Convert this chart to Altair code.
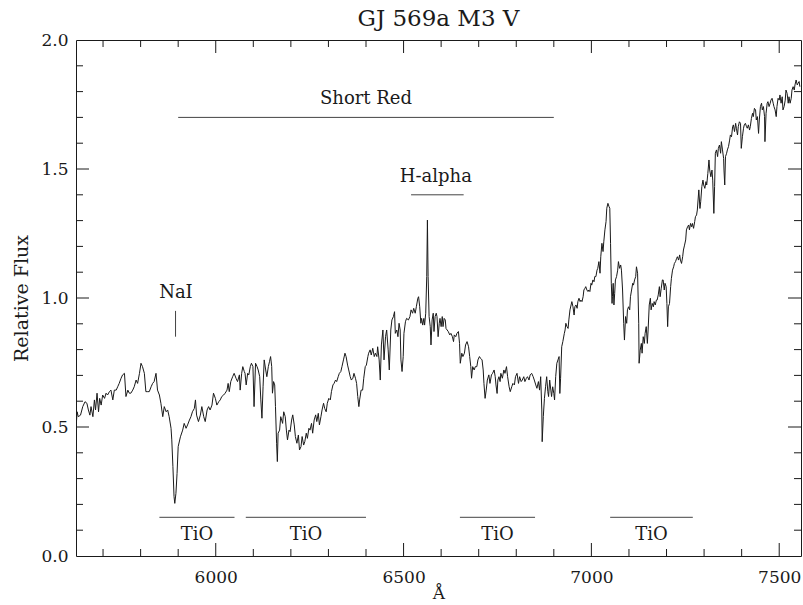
import altair as alt
import pandas as pd

# ---- spectrum (wavelength in Angstrom, relative flux) ----
wavelength = [
 5628,5631,5634,5640,5646,5652,5657,5661,5665,5668,5673,5677,5680,5684,5688,5691,5695,5699,5704,5708,
 5712,5717,5721,5726,5730,5735,5739,5743,5748,5752,5757,5761,5766,5770,5774,5779,5783,5788,5792,5797,
 5801,5805,5810,5814,5819,5823,5828,5832,5836,5841,5845,5850,5854,5859,5863,5868,5872,5876,5881,5883,
 5886,5889,5891,5894,5897,5900,5906,5912,5916,5921,5925,5930,5934,5938,5943,5946,5949,5954,5959,5963,
 5968,5972,5977,5981,5985,5990,5994,5999,6003,6008,6012,6016,6021,6025,6030,6033,6036,6040,6045,6049,
 6054,6058,6063,6065,6069,6072,6076,
 6078,6081,6085,6088,6092,6095,6099,6102,6106,6110,6113,6117,6120,6123,6126,6129,6133,6136,6140,6143,
 6146,6149,6151,6154,6157,6159,6162,6164,6166,6170,6173,6178,6181,6185,6188,6191,6195,6198,6202,6205,
 6209,6212,6216,6220,6223,6227,6230,6234,6237,6241,6244,6248,6251,6255,6258,6262,6266,6269,6273,6276,
 6280,6283,6287,6290,6294,6297,6301,6305,6308,6312,6315,6319,6322,6326,6329,6333,6336,6340,6344,6347,
 6351,6354,6358,6361,6365,6368,6372,6375,6378,6381,6383,6387,6391,6394,6398,6401,6405,6407,6411,6414,
 6418,6422,6425,6429,6431,6435,6438,6441,6445,6448,6452,6455,6459,6462,6466,6469,6473,6476,6478,6482,
 6485,6488,6491,6493,6496,6499,6501,6505,6508,6513,6517,
 6520,6524,6527,6531,6534,6538,6540,6543,6546,6548,6551,6554,6556,6559,6561.7,6563.5,6565.3,6568,6571,6573,
 6576,6579,6581,6584,6587,6589,6592,6595,6597,6600,6603,6605,6608,6611,6613,6616,6619,6623,6626,6630,
 6633,6635,6639,6642,6646,6649,6651,6655,6658,6662,6665,6669,6673,6676,6679,6681,6684,6688,6691,6695,
 6698,6702,6705,6709,6712,6714,6717,6720,6723,6727,6730,6734,6737,6741,6744,6746,6749,6751,6754,6757,
 6759,6763,6767,6770,6774,6777,6781,6784,6788,6791,6795,6798,6802,6806,6809,6813,6816,6820,6823,6827,
 6830,6834,6837,6841,6845,6848,6852,6855,6859,6862,6865,6868,6869,6872,6875,6878,6881,6884,6886,6889,
 6892,6894,6897,6900,6902,6905,6908,6911,6914,6916,6918,6921,6924,6928,
 6930,6932,6935,6938,6940,6943,6946,6948,6951,6954,6956,6959,6962,6964,6967,6970,6972,6975,6978,6980,
 6983,6985,6988,6991,6993,6996,6999,7001,7004,7007,7009,7012,7015,7017,7020,7023,7025,7028,7031,7033,
 7036,7039,7041,7044,7047,7049,7051,7053,7055,7056,7058,7060,7062,7064,7067,7070,7072,7075,7078,7080,
 7083,7086,7088,7091,7094,7096,7099,7102,7104,7107,7110,7112,7115,7118,7120,7123,7126,7127,7130,7133,
 7135,7138,7141,7143,7146,7149,7151,7154,7157,7159,7162,7165,7167,7170,7173,7175,7178,7181,7183,7186,
 7189,7191,7194,7196,7199,7201,7203,7205,7208,7211,7213,7216,7219,7221,7224,7227,7229,7232,7235,7237,
 7240,7243,7245,7248,7251,7253,7256,7259,7261,7264,7267,7269,7272,7275,7277,7280,7282,
 7286,7289,7291,7294,7297,7299,7302,7305,7307,7310,7313,7315,7318,7321,7323,7326,7328,7330,7333,7336,
 7338,7341,7344,7346,7349,7352,7353,7355,7357,7360,7362,7365,7368,7370,7373,7376,7378,7381,7384,7386,
 7389,7391,7394,7397,7399,7402,7405,7407,7410,7413,7415,7418,7421,7423,7426,7429,7431,7434,7437,7439,
 7442,7445,7447,7450,7453,7455,7458,7461,7462,7465,7468,7470,7473,7476,7478,7481,7484,7486,7489,7492,
 7494,7497,7500,7502,7505,7508,7510,7513,7516,7518,7521,7524,7526,7529,7532,7534,7537,7540,7542,7545,
 7548,7550,7553,7555,
]
flux = [
 0.495,0.559,0.540,0.546,0.579,0.598,0.592,0.566,0.546,0.579,0.540,0.605,0.566,0.631,0.559,0.611,0.585,0.624,0.611,0.631,
 0.624,0.637,0.643,0.605,0.643,0.643,0.656,0.669,0.689,0.702,0.708,0.618,0.643,0.631,0.631,0.643,0.656,0.682,0.669,0.708,
 0.747,0.734,0.708,0.637,0.637,0.637,0.656,0.669,0.676,0.708,0.643,0.624,0.592,0.540,0.579,0.559,0.566,0.540,0.495,0.450,
 0.346,0.230,0.204,0.243,0.320,0.424,0.462,0.488,0.514,0.495,0.508,0.527,0.540,0.559,0.572,0.605,0.546,0.521,0.546,0.579,
 0.540,0.521,0.566,0.579,0.566,0.585,0.631,0.611,0.585,0.598,0.605,0.618,0.624,0.631,0.643,0.669,0.637,0.676,0.695,0.708,
 0.689,0.676,0.702,0.643,0.708,0.734,0.715,
 0.708,0.663,0.708,0.702,0.734,0.747,0.734,0.579,0.747,0.734,0.721,0.695,0.605,0.534,0.656,0.760,0.721,0.695,0.734,0.753,
 0.773,0.734,0.631,0.676,0.663,0.579,0.437,0.366,0.476,0.488,0.540,0.514,0.559,0.540,0.488,0.450,0.488,0.482,0.527,0.547,
 0.508,0.463,0.437,0.469,0.411,0.424,0.463,0.430,0.443,0.476,0.456,0.495,0.488,0.514,0.476,0.527,0.547,0.521,0.553,0.508,
 0.540,0.566,0.592,0.572,0.559,0.592,0.611,0.605,0.637,0.663,0.669,0.682,0.676,0.695,0.708,0.715,0.734,0.760,0.786,0.773,
 0.740,0.721,0.695,0.682,0.689,0.708,0.689,0.669,0.618,0.579,0.605,0.643,0.643,0.689,0.734,0.740,0.773,0.786,0.799,0.779,
 0.805,0.773,0.786,0.773,0.811,0.760,0.682,0.818,0.876,0.760,0.850,0.876,0.799,0.721,0.876,0.915,0.928,0.947,0.863,0.876,
 0.850,0.902,0.876,0.760,0.715,0.773,0.863,0.908,0.921,0.915,0.928,
 0.954,0.941,0.960,0.941,0.966,0.999,1.005,0.966,0.902,0.921,0.895,0.921,0.895,0.941,1.083,1.302,1.083,0.928,0.889,0.818,
 0.915,0.941,0.870,0.928,0.941,0.928,0.850,0.902,0.921,0.889,0.928,0.889,0.921,0.915,0.882,0.876,0.870,0.857,0.863,0.850,
 0.831,0.857,0.850,0.863,0.870,0.824,0.747,0.786,0.773,0.786,0.818,0.831,0.811,0.773,0.734,0.689,0.734,0.721,0.734,0.734,
 0.760,0.773,0.766,0.760,0.721,0.669,0.611,0.643,0.682,0.702,0.669,0.702,0.708,0.721,0.695,0.663,0.630,0.682,0.695,0.676,
 0.708,0.689,0.721,0.708,0.734,0.695,0.656,0.637,0.656,0.669,0.663,0.695,0.708,0.669,0.695,0.676,0.682,0.695,0.676,0.689,
 0.695,0.682,0.702,0.708,0.695,0.682,0.663,0.650,0.676,0.643,0.695,0.566,0.443,0.540,0.611,0.656,0.695,0.637,0.618,0.682,
 0.643,0.618,0.656,0.630,0.605,0.695,0.747,0.760,0.773,0.630,0.689,0.811,0.831,0.863,
 0.876,0.902,0.889,0.882,0.915,0.954,0.973,0.986,0.966,0.934,0.966,0.973,0.960,0.986,0.999,0.986,0.992,0.986,1.005,1.031,
 1.038,1.044,1.031,1.025,1.031,1.025,1.057,1.050,1.070,1.063,1.083,1.083,1.108,1.115,1.141,1.096,1.160,1.212,1.180,1.218,
 1.264,1.296,1.348,1.367,1.354,1.348,1.212,1.057,0.979,1.005,1.057,0.973,1.018,1.070,1.083,1.108,1.141,1.115,1.128,1.108,
 1.031,0.902,0.837,0.928,0.902,0.954,0.966,0.954,1.005,1.031,1.057,1.050,1.070,1.083,1.121,1.096,0.902,0.747,0.798,0.824,
 0.786,0.850,0.824,0.863,0.889,0.824,0.876,0.973,0.999,0.954,0.979,0.966,0.986,0.973,0.992,0.992,1.012,1.044,1.005,1.038,
 1.070,1.070,1.031,1.057,1.044,0.979,0.889,0.966,0.979,1.044,1.076,1.108,1.121,1.134,1.141,1.154,1.160,1.147,1.167,1.147,
 1.134,1.160,1.186,1.205,1.225,1.264,1.276,1.283,1.264,1.289,1.276,1.289,1.270,1.296,1.315,1.322,1.341,
 1.419,1.347,1.373,1.432,1.457,1.438,1.425,1.451,1.438,1.483,1.535,1.496,1.470,1.496,1.457,1.328,1.432,1.561,1.574,1.548,
 1.580,1.593,1.561,1.606,1.574,1.541,1.496,1.438,1.548,1.561,1.574,1.587,1.612,1.632,1.625,1.664,1.671,1.645,1.677,1.658,
 1.632,1.664,1.683,1.677,1.580,1.625,1.658,1.671,1.677,1.664,1.658,1.671,1.651,1.664,1.696,1.716,1.703,1.735,1.729,1.690,
 1.703,1.638,1.690,1.742,1.755,1.729,1.742,1.703,1.606,1.716,1.755,1.761,1.742,1.755,1.767,1.774,1.755,1.742,1.729,1.703,
 1.742,1.774,1.767,1.787,1.755,1.780,1.729,1.742,1.767,1.806,1.793,1.755,1.780,1.755,1.774,1.806,1.819,1.806,1.826,1.845,
 1.826,1.832,1.839,1.819,
]

# ---- axis ticks ----
x_major_ticks = [6000, 6500, 7000, 7500]
x_minor_ticks = [5700, 5800, 5900, 6100, 6200, 6300, 6400, 6600, 6700, 6800, 6900,
                 7100, 7200, 7300, 7400]
y_major_ticks = [0.5, 1.0, 1.5]
y_label_ticks = [0.0, 0.5, 1.0, 1.5, 2.0]
y_minor_ticks = [0.1, 0.2, 0.3, 0.4, 0.6, 0.7, 0.8, 0.9, 1.1, 1.2, 1.3, 1.4,
                 1.6, 1.7, 1.8, 1.9]

# ---- annotations ----
seg_x1 = [5900, 6520, 5850, 6080, 6650, 7050]
seg_x2 = [6900, 6660, 6050, 6400, 6850, 7270]
seg_y = [1.70, 1.40, 0.15, 0.15, 0.15, 0.15]

nai_x = [5893]
nai_y1 = [0.85]
nai_y2 = [0.95]

label_text = ["Short Red", "H-alpha", "NaI", "TiO", "TiO", "TiO", "TiO"]
label_x = [6400, 6586, 5894, 5950, 6240, 6750, 7160]
label_y = [1.77, 1.47, 1.02, 0.08, 0.08, 0.08, 0.08]

XDOM = [5628, 7558]
YDOM = [0, 2.0]
W, H = 725, 516
FONT = "DejaVu Serif"
INK = "#1a1a1a"

xs = alt.Scale(domain=XDOM, nice=False, zero=False)
ys = alt.Scale(domain=YDOM, nice=False, zero=True)

AX = alt.Axis(values=x_major_ticks, format="d", ticks=False, domain=False,
              grid=False, labelPadding=13, titlePadding=0,
              labelFont=FONT, labelFontSize=17, labelColor=INK,
              titleFont=FONT, titleFontSize=17, titleFontWeight="normal",
              titleColor=INK, title="Å")
AY = alt.Axis(values=y_label_ticks, format=".1f", ticks=False, domain=False,
              grid=False, labelPadding=8, titlePadding=9,
              labelFont=FONT, labelFontSize=17, labelColor=INK,
              titleFont=FONT, titleFontSize=19, titleFontWeight="normal",
              titleColor=INK, title="Relative Flux")

spec = pd.DataFrame({"w": wavelength, "f": flux})

line = alt.Chart(spec).mark_line(color=INK, strokeWidth=1, clip=True).encode(
    x=alt.X("w:Q", scale=xs, axis=AX),
    y=alt.Y("f:Q", scale=ys, axis=AY),
    order=alt.Order("w:Q"),
)

def xticks(values, length):
    d = pd.DataFrame({"w": values})
    base = alt.Chart(d).mark_rule(color=INK, strokeWidth=1)
    bottom = base.encode(x=alt.X("w:Q", scale=xs, axis=AX),
                         y=alt.value(H), y2=alt.value(H - length))
    top = base.encode(x=alt.X("w:Q", scale=xs, axis=AX),
                      y=alt.value(0), y2=alt.value(length))
    return [bottom, top]

def yticks(values, length):
    d = pd.DataFrame({"f": values})
    base = alt.Chart(d).mark_rule(color=INK, strokeWidth=1)
    left = base.encode(y=alt.Y("f:Q", scale=ys, axis=AY),
                       x=alt.value(0), x2=alt.value(length))
    right = base.encode(y=alt.Y("f:Q", scale=ys, axis=AY),
                        x=alt.value(W), x2=alt.value(W - length))
    return [left, right]

tick_layers = (xticks(x_major_ticks, 13) + xticks(x_minor_ticks, 7)
               + yticks(y_major_ticks, 13) + yticks(y_minor_ticks, 7))

segs = pd.DataFrame({"w": seg_x1, "w2": seg_x2, "f": seg_y})
seg_layer = alt.Chart(segs).mark_rule(color="#444444", strokeWidth=1).encode(
    x=alt.X("w:Q", scale=xs, axis=AX), x2="w2:Q",
    y=alt.Y("f:Q", scale=ys, axis=AY),
)

nai = pd.DataFrame({"w": nai_x, "f": nai_y1, "f2": nai_y2})
nai_layer = alt.Chart(nai).mark_rule(color="#444444", strokeWidth=1).encode(
    x=alt.X("w:Q", scale=xs, axis=AX),
    y=alt.Y("f:Q", scale=ys, axis=AY), y2="f2:Q",
)

labels = pd.DataFrame({"t": label_text, "w": label_x, "f": label_y})
text_layer = alt.Chart(labels).mark_text(font=FONT, fontSize=18, color=INK,
                                         align="center", baseline="middle").encode(
    x=alt.X("w:Q", scale=xs, axis=AX),
    y=alt.Y("f:Q", scale=ys, axis=AY),
    text="t:N",
)

chart = alt.layer(line, *tick_layers, seg_layer, nai_layer, text_layer).properties(
    width=W, height=H,
    background="white",
    title=alt.Title("GJ 569a M3 V", font=FONT, fontSize=23, fontWeight="normal",
                    color=INK, anchor="middle", offset=0),
    autosize=alt.AutoSizeParams(type="none"),
    padding={"left": 76, "top": 40, "right": 2, "bottom": 49},
).configure_view(stroke=INK, strokeWidth=1)

chart.save("out.html", embed_options={"renderer": "svg", "actions": False})
